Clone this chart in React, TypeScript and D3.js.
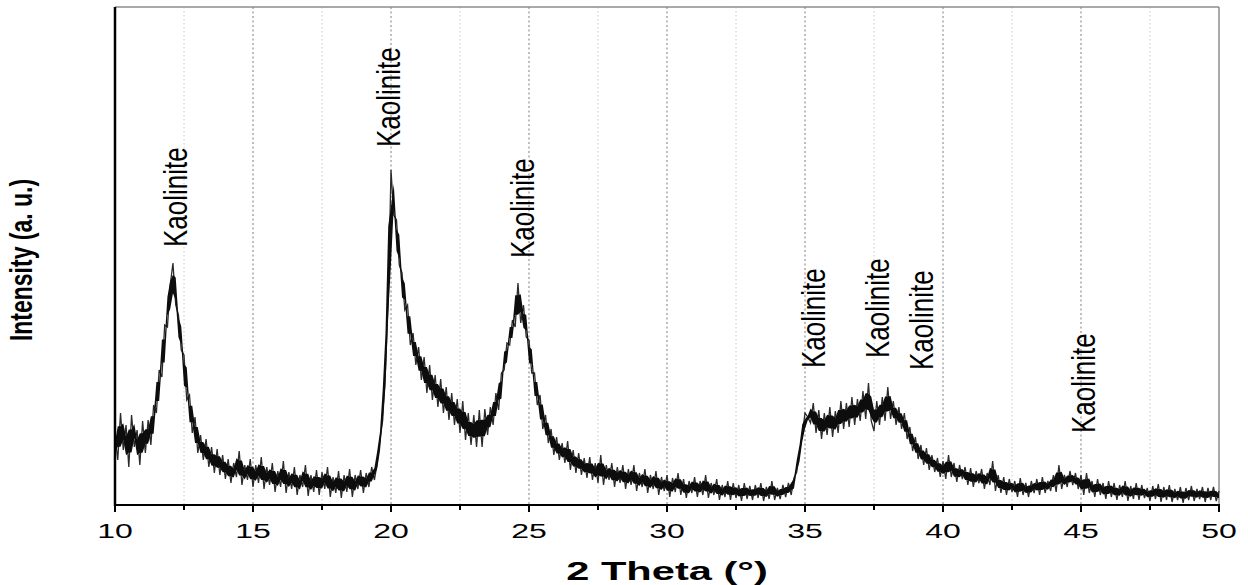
import React from "react";
import * as d3 from "d3";

// 2θ start / step of the scan
const thetaStart = 10;
const thetaStep = 0.1;

// Intensity (a.u.), one value per 0.1° from 10.0° to 50.0°
const intensity: number[] = [
  70, 45, 92, 55, 80, 38, 90, 58, 75, 40,
  84, 52, 85, 60, 100, 92, 135, 128, 180, 178,
  220, 242, 200, 190, 155, 150, 105, 110, 72, 88,
  52, 70, 45, 66, 38, 58, 32, 56, 30, 50,
  26, 46, 22, 42, 28, 54, 20, 40, 25, 46,
  18, 40, 22, 48, 16, 38, 20, 42, 13, 34,
  18, 44, 12, 33, 16, 38, 10, 30, 18, 40,
  9, 30, 13, 35, 10, 33, 16, 38, 8, 28,
  12, 34, 7, 30, 13, 36, 8, 30, 16, 35,
  12, 32, 18, 38, 25, 42, 65, 85, 135, 205,
  335, 290, 285, 240, 232, 195, 200, 160, 172, 140,
  158, 125, 148, 112, 140, 105, 130, 98, 126, 92,
  118, 85, 112, 80, 106, 72, 104, 65, 92, 60,
  90, 58, 95, 58, 96, 70, 98, 80, 112, 95,
  132, 135, 162, 160, 185, 178, 222, 182, 200, 168,
  165, 132, 132, 100, 110, 76, 90, 62, 76, 50,
  68, 45, 62, 42, 64, 35, 55, 32, 52, 30,
  47, 27, 48, 25, 42, 22, 50, 20, 40, 25,
  42, 18, 38, 22, 40, 16, 36, 20, 40, 14,
  32, 18, 36, 12, 30, 16, 34, 10, 28, 14,
  30, 8, 27, 13, 32, 10, 26, 7, 24, 12,
  28, 8, 24, 10, 30, 7, 22, 10, 26, 5,
  20, 8, 24, 5, 22, 7, 20, 4, 22, 6,
  19, 5, 20, 7, 22, 4, 18, 6, 24, 5,
  17, 6, 20, 8, 22, 10, 27, 33, 52, 70,
  92, 88, 82, 102, 72, 95, 66, 92, 70, 98,
  68, 94, 72, 104, 76, 102, 78, 108, 80, 106,
  84, 114, 86, 122, 84, 74, 104, 80, 108, 84,
  118, 86, 104, 80, 98, 76, 92, 66, 78, 54,
  68, 46, 60, 40, 57, 35, 50, 33, 47, 28,
  44, 26, 50, 28, 42, 23, 40, 26, 38, 20,
  37, 18, 34, 22, 36, 16, 32, 20, 44, 14,
  30, 12, 28, 10, 26, 13, 24, 8, 27, 10,
  22, 8, 24, 12, 26, 10, 28, 12, 24, 14,
  30, 13, 40, 16, 30, 18, 34, 20, 32, 16,
  30, 10, 32, 12, 24, 8, 26, 10, 22, 6,
  24, 8, 22, 5, 20, 8, 24, 4, 19, 6,
  22, 5, 20, 7, 17, 4, 19, 6, 21, 3,
  18, 5, 20, 3, 16, 5, 18, 2, 17, 5,
  19, 4, 16, 6, 18, 3, 17, 5, 18, 4,
  14,
];

// Peak labels: 2θ position and intensity level of the label's lower end
const peakLabelTheta = [12.17, 19.9, 24.75, 35.3, 37.6, 39.2, 45.07];
const peakLabelLevel = [258, 358, 247, 137, 147, 135, 72];
const peakLabelText = "Kaolinite";

const xTicks = [10, 15, 20, 25, 30, 35, 40, 45, 50];
const xMinorTicks = [12.5, 17.5, 22.5, 27.5, 32.5, 37.5, 42.5, 47.5];

const W = 1248;
const H = 585;
const M = { left: 115, right: 1219, top: 7, bottom: 505 };

export default function App() {
  const x = d3.scaleLinear().domain([10, 50]).range([M.left, M.right]);
  const y = d3.scaleLinear().domain([0, 498]).range([M.bottom, M.top]);

  const pts: [number, number][] = intensity.map((v, i) => [thetaStart + i * thetaStep, v]);
  const line = d3
    .line<[number, number]>()
    .x((d) => x(d[0]))
    .y((d) => y(d[1]));

  // dense core of the noise band: inner part of the local min / max around each point
  const band = pts.map((d, i) => {
    const a = intensity[Math.max(0, i - 1)];
    const b = intensity[Math.min(intensity.length - 1, i + 1)];
    const lo = Math.min(a, d[1], b);
    const hi = Math.max(a, d[1], b);
    return { t: d[0], lo: lo + (hi - lo) * 0.28, hi: hi - (hi - lo) * 0.28 };
  });
  const area = d3
    .area<{ t: number; lo: number; hi: number }>()
    .x((d) => x(d.t))
    .y0((d) => y(d.lo))
    .y1((d) => y(d.hi));

  const font = "'Liberation Sans', Arial, sans-serif";

  return (
    <svg
      width={W}
      height={H}
      style={{ position: "absolute", left: 0, top: 0, background: "#fff" }}
      fontFamily={font}
    >
      <rect x={0} y={0} width={W} height={H} fill="#fff" />
      {/* grid */}
      {xMinorTicks.map((t) => (
        <line
          key={"gm" + t}
          x1={x(t)}
          x2={x(t)}
          y1={M.top}
          y2={M.bottom}
          stroke="#c8c8c8"
          strokeWidth={1}
          strokeDasharray="1.5,2.5"
        />
      ))}
      {xTicks
        .filter((t) => t > 10 && t < 50)
        .map((t) => (
          <line
            key={"gM" + t}
            x1={x(t)}
            x2={x(t)}
            y1={M.top}
            y2={M.bottom}
            stroke="#9a9a9a"
            strokeWidth={1.3}
            strokeDasharray="2,2.5"
          />
        ))}
      {/* frame top/right */}
      <line x1={M.left} x2={M.right} y1={M.top} y2={M.top} stroke="#8c8c8c" strokeWidth={1.5} />
      <line x1={M.right} x2={M.right} y1={M.top} y2={M.bottom} stroke="#8c8c8c" strokeWidth={1.5} />

      {/* data */}
      <path d={line(pts) || ""} fill="none" stroke="#2a2a2a" strokeWidth={1.3} strokeLinejoin="miter" />
      <path d={area(band) || ""} fill="#0d0d0d" stroke="none" />

      {/* axes */}
      <line x1={M.left} x2={M.left} y1={M.top} y2={M.bottom + 1} stroke="#000" strokeWidth={2.5} />
      <line x1={M.left} x2={M.right + 1} y1={M.bottom} y2={M.bottom} stroke="#000" strokeWidth={2} />
      {xTicks.map((t) => (
        <line key={"t" + t} x1={x(t)} x2={x(t)} y1={M.bottom} y2={M.bottom + 7} stroke="#000" strokeWidth={2} />
      ))}
      {xMinorTicks.map((t) => (
        <line key={"tm" + t} x1={x(t)} x2={x(t)} y1={M.bottom} y2={M.bottom + 5} stroke="#000" strokeWidth={2} />
      ))}
      {xTicks.map((t) => (
        <text
          key={"l" + t}
          transform={`translate(${x(t)},${M.bottom + 33}) scale(1.6,1)`}
          textAnchor="middle"
          fontSize={20}
          fill="#000"
        >
          {t}
        </text>
      ))}
      <text
        transform={`translate(${667},${580}) scale(1.6,1)`}
        textAnchor="middle"
        fontSize={26}
        fontWeight="bold"
        fill="#000"
      >
        2 Theta (°)
      </text>
      <text
        transform={`translate(${32},${260}) scale(1.35,1) rotate(-90)`}
        textAnchor="middle"
        fontSize={23}
        fontWeight="bold"
        fill="#000"
      >
        Intensity (a. u.)
      </text>

      {/* peak labels */}
      {peakLabelTheta.map((t, i) => (
        <text
          key={"k" + i}
          transform={`translate(${x(t)},${y(peakLabelLevel[i])}) scale(1.3,1) rotate(-90)`}
          dy="0.36em"
          textAnchor="start"
          fontSize={26}
          fill="#000"
        >
          {peakLabelText}
        </text>
      ))}
    </svg>
  );
}
